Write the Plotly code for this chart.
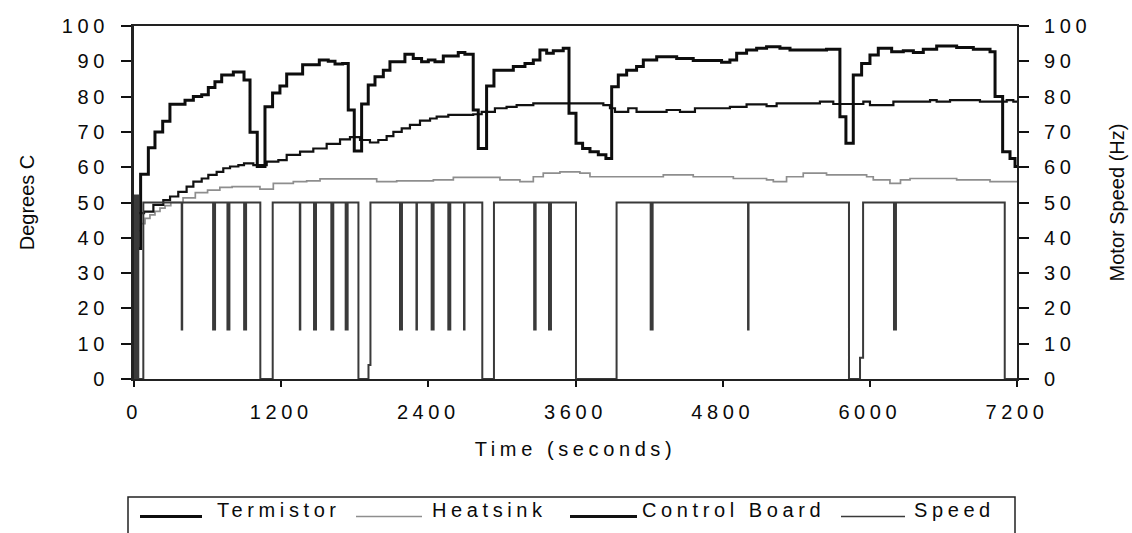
import plotly.graph_objects as go

# ---------------- data ----------------
term_t = [0, 54, 117, 171, 234, 293, 416, 484, 552, 606, 660, 715, 810, 897, 946, 1005,
          1068, 1130, 1190, 1245, 1375, 1511, 1584, 1639, 1701, 1747, 1796, 1856, 1910,
          1965, 2033, 2087, 2209, 2277, 2345, 2400, 2454, 2522, 2644, 2698, 2766, 2807,
          2875, 2935, 3093, 3188, 3256, 3310, 3365, 3419, 3500, 3547, 3604, 3658, 3718,
          3786, 3848, 3895, 3949, 4017, 4098, 4153, 4262, 4425, 4560, 4791, 4859, 4914,
          4995, 5077, 5158, 5267, 5349, 5647, 5756, 5805, 5865, 5933, 6001, 6069, 6178,
          6273, 6355, 6436, 6545, 6708, 6844, 6980, 7021, 7083, 7143, 7184, 7200]
term_v = [37, 58, 65.5, 70, 73, 77.8, 79, 80, 80.5, 82.6, 84.2, 86.1, 87, 84.7, 69.9, 60.2,
          77.1, 81, 83, 86.4, 89, 90.4, 90, 89.2, 89.4, 76.2, 64.6, 77.9, 83.3,
          85.6, 87.5, 89.9, 92, 90.8, 89.9, 90.4, 89.9, 91.5, 92.5, 92, 76.2, 65.3,
          83, 87.5, 88.5, 89.4, 90.4, 93.2, 92.3, 93, 93.7, 75.3, 66.8, 65.3, 64.4,
          63.5, 62.5, 82.8, 86.1, 87.5, 88.5, 90.4, 91.3, 90.8, 90.2, 89.7, 90.4, 92.3,
          93.2, 93.7, 94.1, 93.7, 93.2, 93.4, 74.3, 66.8, 86.1, 89.4, 91.8, 93.7, 92.7,
          93, 92.5, 93.4, 94.3, 93.9, 93.4, 92.7, 80, 64.4, 62.5, 60.2, 60.2]

board_t = [0, 82, 158, 239, 294, 361, 429, 484, 552, 606, 674, 728, 783, 851, 897, 973,
           1082, 1177, 1245, 1354, 1462, 1571, 1680, 1761, 1843, 1924, 1992, 2060, 2115,
           2183, 2250, 2332, 2414, 2468, 2563, 2766, 2835, 2943, 3038, 3120, 3256, 3827,
           3881, 3922, 4030, 4098, 4343, 4452, 4574, 4859, 4995, 5158, 5240, 5593, 5702,
           5947, 6001, 6192, 6491, 6545, 6654, 6898, 7116, 7170, 7200]
board_v = [47, 47.4, 49.3, 50.7, 51.7, 53, 54.5, 55.9, 56.8, 57.8, 58.7, 59.7, 60.2, 60.6, 61.1, 60.6,
           61.6, 62, 63.5, 64.4, 65.3, 66.6, 67.9, 68.5, 67.7, 67, 67.7, 68.8, 70,
           71, 72, 73.2, 73.8, 74.3, 74.8, 75, 75.7, 76.7, 77.1, 77.6, 78.1, 77.6,
           76.7, 75.7, 76.7, 75.7, 76.2, 75.7, 76.7, 77.1, 77.8, 77.3, 78.1, 78.6, 77.9,
           78.6, 77.6, 78.6, 79, 78.6, 79, 78.6, 79, 78.6, 78.6]

heat_t = [0, 54, 90, 130, 171, 212, 253, 300, 400, 500, 600, 700, 800, 1027, 1136, 1299,
          1408, 1517, 1979, 2142, 2441, 2604, 2984, 3147, 3256, 3337, 3473, 3636, 3718,
          4316, 4560, 4887, 5158, 5213, 5321, 5457, 5647, 5974, 6028, 6164, 6250, 6328,
          6708, 6980, 7200]
heat_v = [42, 44, 45.5, 46.5, 47.5, 48.4, 49.1, 50, 51.3, 52.8, 53.5, 54.3, 54.5, 53.8, 55.4, 55.9,
          56.1, 56.7, 55.9, 56.1, 56.4, 57.1, 56.4, 55.9, 57.3, 58.3, 58.7, 58.3, 57.3,
          57.8, 57.3, 56.8, 56.4, 55.9, 57.3, 58.3, 57.8, 57.3, 56.4, 55.4, 56.4, 56.8,
          56.4, 55.9, 55.9]

speed_t = [0, 5, 11, 17, 23, 29, 35, 76,
           389, 393, 645, 661, 762, 778, 898, 914,
           1030, 1131, 1352, 1356, 1468, 1484, 1609, 1625, 1726, 1742,
           1830, 1912, 1928, 2169, 2185, 2303, 2307, 2427, 2443, 2563, 2579, 2691, 2695,
           2840, 2935, 3263, 3275, 3384, 3400,
           3604, 3935, 4213, 4229, 5007, 5011,
           5830, 5920, 5945, 6197, 6213, 7100, 7200]
speed_v = [0, 52, 0, 52, 0, 52, 0, 50,
           14, 50, 14, 50, 14, 50, 14, 50,
           0, 50, 14, 50, 14, 50, 14, 50, 14, 50,
           0, 4, 50, 14, 50, 14, 50, 14, 50, 14, 50, 14, 50,
           0, 50, 14, 50, 14, 50,
           0, 50, 14, 50, 14, 50,
           0, 6, 50, 14, 50, 0, 0]

x_ticks = [0, 1200, 2400, 3600, 4800, 6000, 7200]
y_ticks = [0, 10, 20, 30, 40, 50, 60, 70, 80, 90, 100]

series_names = ["Termistor", "Heatsink", "Control Board", "Speed"]

# ---------------- styles ----------------
FONT = "Liberation Sans, Arial, sans-serif"
C_TERM = "#0d0d0d"
C_BOARD = "#111111"
C_HEAT = "#8e8e8e"
C_SPEED = "#3a3a3a"

fig = go.Figure()
fig.add_trace(go.Scatter(x=speed_t, y=speed_v, name="Speed", mode="lines",
                         line=dict(color=C_SPEED, width=2, shape="hv"), yaxis="y2"))
fig.add_trace(go.Scatter(x=heat_t, y=heat_v, name="Heatsink", mode="lines",
                         line=dict(color=C_HEAT, width=1.7, shape="hv")))
fig.add_trace(go.Scatter(x=board_t, y=board_v, name="Control Board", mode="lines",
                         line=dict(color=C_BOARD, width=2.2, shape="hv")))
fig.add_trace(go.Scatter(x=term_t, y=term_v, name="Termistor", mode="lines",
                         line=dict(color=C_TERM, width=3, shape="hv")))

tickfont = dict(family=FONT, size=20, color="#0a0a0a")
titlefont = dict(family=FONT, size=20, color="#0a0a0a")

fig.update_layout(
    width=1132, height=533,
    margin=dict(l=134, r=115, t=26, b=154, autoexpand=False),
    paper_bgcolor="white", plot_bgcolor="white",
    showlegend=False,
    font=dict(family=FONT, size=20, color="#0a0a0a"),
    xaxis=dict(range=[0, 7200], tickmode="array", tickvals=x_ticks,
               ticks="outside", ticklen=6, tickwidth=1.5, tickcolor="#111",
               showline=True, linecolor="#222", linewidth=2, mirror=True,
               showgrid=False, zeroline=False, tickfont=tickfont,
               ticklabelstandoff=8,
               title=dict(text="Time (seconds)", font=titlefont, standoff=20)),
    yaxis=dict(range=[0, 100], tickmode="array", tickvals=y_ticks,
               ticks="outside", ticklen=10, tickwidth=1.5, tickcolor="#111",
               showline=True, linecolor="#222", linewidth=3,
               showgrid=False, zeroline=False, tickfont=tickfont,
               ticklabelstandoff=8,
               title=dict(text="Degrees C", font=titlefont, standoff=36)),
    yaxis2=dict(range=[0, 100], tickmode="array", tickvals=y_ticks, overlaying="y",
                side="right", ticks="outside", ticklen=10, tickwidth=1.5, tickcolor="#111",
                showline=True, linecolor="#222", linewidth=2,
                showgrid=False, zeroline=False, tickfont=tickfont,
                ticklabelstandoff=11,
                title=dict(text="Motor Speed (Hz)", font=titlefont, standoff=34)),
)

# ---------------- custom legend box (bottom) ----------------
PW, PH, L, B = 883.0, 353.0, 134.0, 379.0
def px(x):
    return (x - L) / PW
def py(y):
    return (B - y) / PH

fig.add_shape(type="rect", xref="paper", yref="paper",
              x0=px(128), x1=px(1015), y0=py(560), y1=py(497),
              line=dict(color="#222", width=1.5), fillcolor="rgba(0,0,0,0)")

legend_items = [
    ("Termistor", 140, 202, 215, C_TERM, 3),
    ("Heatsink", 356, 422, 430, C_HEAT, 1.7),
    ("Control Board", 570, 637, 640, C_BOARD, 3),
    ("Speed", 841, 905, 912, C_SPEED, 1.7),
]
for name, s0, s1, tx, col, w in legend_items:
    fig.add_shape(type="line", xref="paper", yref="paper",
                  x0=px(s0), x1=px(s1), y0=py(516.5), y1=py(516.5),
                  line=dict(color=col, width=w))
    fig.add_annotation(text=name, xref="paper", yref="paper", x=px(tx), y=py(510),
                       xanchor="left", yanchor="middle", align="left", showarrow=False,
                       font=dict(family=FONT, size=20, color="#0a0a0a"))

post = """
var gd = document.getElementById('{plot_id}');
gd.querySelectorAll('.xtick text, .ytick text, .y2tick text, .g-xtitle text, .annotation-text').forEach(function(t){ t.style.letterSpacing = '4.6px'; });
"""

fig.write_html("out.html", post_script=post)
